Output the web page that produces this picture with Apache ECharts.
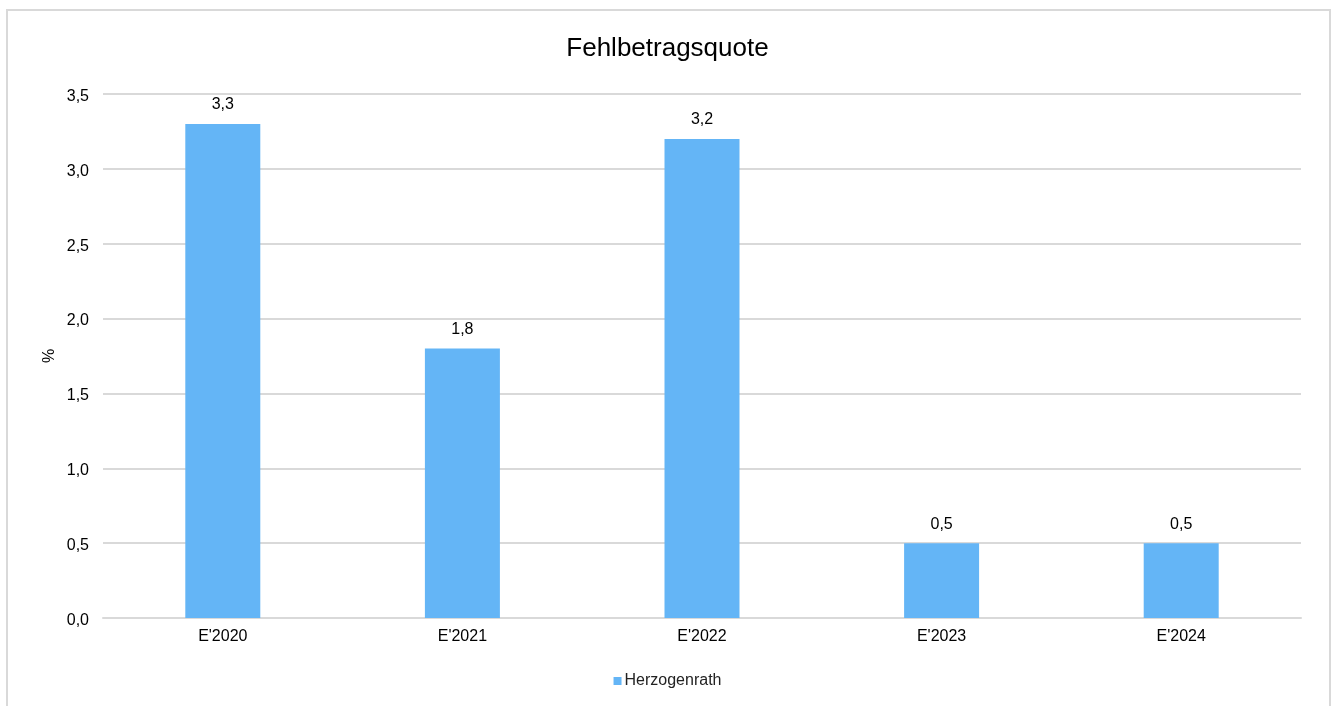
<!DOCTYPE html>
<html><head><meta charset="utf-8">
<script src="https://cdn.jsdelivr.net/npm/echarts@6/dist/echarts.min.js"></script>
<style>html,body{margin:0;padding:0;background:#fff}#c{width:1335px;height:706px}</style>
</head><body><div id="c"></div>
<script>
const categories = ["E'2020", "E'2021", "E'2022", "E'2023", "E'2024"];
const values = [3.3, 1.8, 3.2, 0.5, 0.5];
const seriesName = "Herzogenrath";
const titleText = "Fehlbetragsquote";
const yAxisName = "%";

const fmt = v => v.toFixed(1).replace('.', ',');
const chart = echarts.init(document.getElementById('c'));
chart.setOption({
  animation: false,
  textStyle: {fontFamily: 'Liberation Sans, Arial, sans-serif'},
  graphic: [{type: 'rect', shape: {x: 7, y: 10, width: 1323, height: 720}, style: {fill: 'none', stroke: '#d9d9d9', lineWidth: 2}, silent: true}],
  title: {text: titleText, left: 'center', top: 31, textStyle: {fontSize: 26, fontWeight: 'normal', color: '#000', fontFamily: 'Liberation Sans, Arial, sans-serif'}},
  legend: {bottom: 12, left: 'center', itemWidth: 8, itemHeight: 8, itemGap: 4, icon: 'rect', textStyle: {fontSize: 16, color: '#222', padding: [0,0,0,-2]}, data: [seriesName]},
  grid: {left: 103, right: 34, top: 94, bottom: 88, containLabel: false},
  xAxis: {type: 'category', data: categories, axisLine: {lineStyle: {color: '#d9d9d9', width: 2}}, axisTick: {show: false}, axisLabel: {color: '#000', fontSize: 16, margin: 11}},
  yAxis: {type: 'value', min: 0, max: 3.5, interval: 0.5, name: yAxisName, nameLocation: 'middle', nameGap: 45, nameRotate: 90, nameMoveOverlap: false, nameTextStyle: {color: '#000', fontSize: 16},
    axisLine: {show: false}, axisTick: {show: false}, splitLine: {lineStyle: {color: '#d9d9d9', width: 2}},
    axisLabel: {color: '#000', fontSize: 16, margin: 14, formatter: v => '{v|' + fmt(v) + '}',
      rich: {v: {fontSize: 16, color: '#000', padding: [5, 0, 0, 0]}}}},
  series: [{name: seriesName, type: 'bar', data: values, barWidth: 75, itemStyle: {color: '#64b5f6'},
    label: {show: true, position: 'top', distance: 11, color: '#000', fontSize: 16, formatter: p => fmt(p.value)}}]
});
</script></body></html>
